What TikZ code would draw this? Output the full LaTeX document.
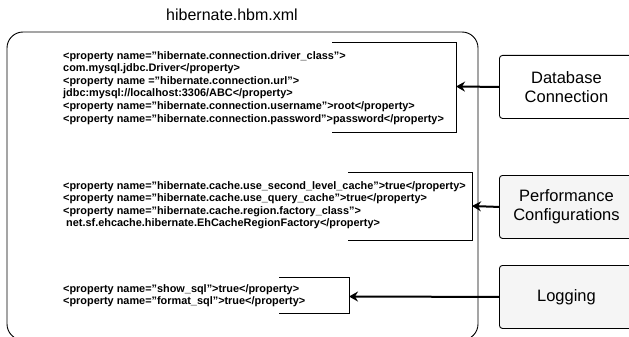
\documentclass[tikz,border=0pt]{standalone}
\usepackage{fontspec}
\setmainfont{Liberation Sans}
\usetikzlibrary{arrows.meta}
\definecolor{boxgray}{HTML}{F5F5F5}
\begin{document}
\begin{tikzpicture}[x=1pt,y=-1pt,
  codetext/.style={anchor=north west,inner sep=0pt,align=left,font=\fontsize{10.9}{12.6}\selectfont\bfseries},
  sidebox/.style={draw,line width=0.9pt,rounded corners=3pt,minimum width=134pt,minimum height=63pt,align=center,font=\fontsize{16.5}{19}\selectfont},
  bracket/.style={line width=0.9pt},
  feed/.style={line width=2pt,-{Stealth[length=9pt,width=10pt,inset=3pt]}}]
\useasboundingbox (0,0) rectangle (629,337);
\node (title) at (232,15) {\fontsize{16}{19}\selectfont hibernate.hbm.xml};
\draw[line width=0.9pt,rounded corners=16pt] (7,32) rectangle (478,340);
% block 1
\node[codetext] (c1) at (63,51) {<property name="hibernate.connection.driver\_class">\\
com.mysql.jdbc.Driver</property>\\
<property name ="hibernate.connection.url">\\
jdbc:mysql://localhost:3306/ABC</property>\\
<property name="hibernate.connection.username">root</property>\\
<property name="hibernate.connection.password">password</property>};
\draw[bracket] (332,42) -- (456,42) -- (456,132) -- (332,132);
\coordinate (b1) at (456,86.5);
% block 2
\node[codetext] (c2) at (63,181) {<property name="hibernate.cache.use\_second\_level\_cache">true</property>\\
<property name="hibernate.cache.use\_query\_cache">true</property>\\
<property name="hibernate.cache.region.factory\_class">\\
\ net.sf.ehcache.hibernate.EhCacheRegionFactory</property>};
\draw[bracket] (348,172) -- (472,172) -- (472,240) -- (348,240);
\coordinate (b2) at (472,206);
% block 3
\node[codetext] (c3) at (63,284) {<property name="show\_sql">true</property>\\
<property name="format\_sql">true</property>};
\draw[bracket] (279,277) -- (349,277) -- (349,313) -- (279,313);
\coordinate (b3) at (349,296.5);
% side boxes
\node[sidebox,fill=white,anchor=north west] (db) at (499,55) {Database\\Connection};
\node[sidebox,fill=boxgray,anchor=north west] (perf) at (499,175) {Performance\\Configurations};
\node[sidebox,fill=boxgray,anchor=north west] (log) at (499,265) {Logging};
\draw[feed] (db.west) -- (b1);
\draw[feed] (perf.west) -- (b2);
\draw[feed] (log.west) -- (b3);
\end{tikzpicture}
\end{document}
